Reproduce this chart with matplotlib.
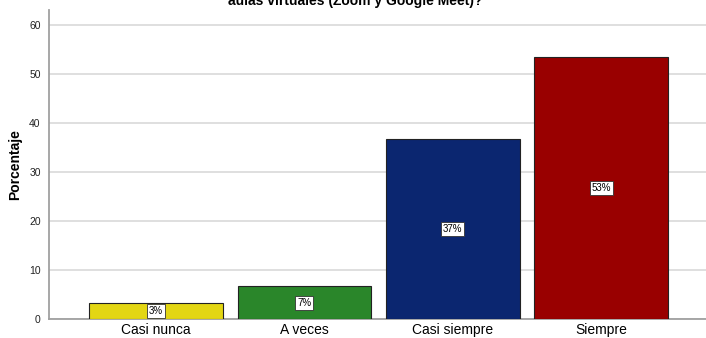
import matplotlib
matplotlib.use("Agg")
import matplotlib.pyplot as plt

plt.rcParams['font.family'] = ['Liberation Sans', 'DejaVu Sans']

categories = ['Casi nunca', 'A veces', 'Casi siempre', 'Siempre']
percentages = [3.33, 6.67, 36.67, 53.33]
bar_labels = ['3%', '7%', '37%', '53%']
colors = ['#e3d613', '#2a862a', '#0b2670', '#990000']
# only the last line of the title is visible in the reference
title = 'aulas virtuales (Zoom y Google Meet)?'

fig = plt.figure(figsize=(7.06, 3.38), dpi=100)
ax = fig.add_axes([49/706, 19/338, 1.0 - 49/706 + 0.003, 309/338])

xpos = list(range(len(categories)))
bars = ax.bar(xpos, percentages, width=0.9, color=colors, edgecolor='#222222', linewidth=0.8, zorder=3)

# white boxed labels in the middle of each bar
for x, v, lab in zip(xpos, percentages, bar_labels):
    ax.text(x, v / 2, lab, ha='center', va='center', fontsize=7, color='black', zorder=4,
            bbox=dict(boxstyle='square,pad=0.2', facecolor='white', edgecolor='#333333', linewidth=0.6))

ax.set_xlim(-0.72, 3.72)
ax.set_ylim(0, 63)
ax.set_yticks([0, 10, 20, 30, 40, 50, 60])
ax.set_xticks(xpos)
ax.set_xticklabels(categories, fontsize=10)
ax.tick_params(axis='y', labelsize=7.5, length=0, pad=6, colors='#222222')
ax.tick_params(axis='x', length=0, pad=3)
ax.grid(axis='y', color='#d9d9d9', linewidth=1.2, zorder=0)
ax.set_axisbelow(True)
for s in ['top', 'right']:
    ax.spines[s].set_visible(False)
ax.spines['left'].set_color('#a0a0a0')
ax.spines['left'].set_linewidth(1.3)
ax.spines['bottom'].set_color('#a0a0a0')
ax.spines['bottom'].set_linewidth(1.3)
ax.set_ylabel('Porcentaje', fontsize=10, fontweight='bold', labelpad=5)

# title runs off the top edge, as in the reference
fig.text(355/706, 1.0 - 1/338, title, ha='center', va='center', fontsize=10, fontweight='bold')

plt.savefig('out.png', dpi=100)
plt.close()
